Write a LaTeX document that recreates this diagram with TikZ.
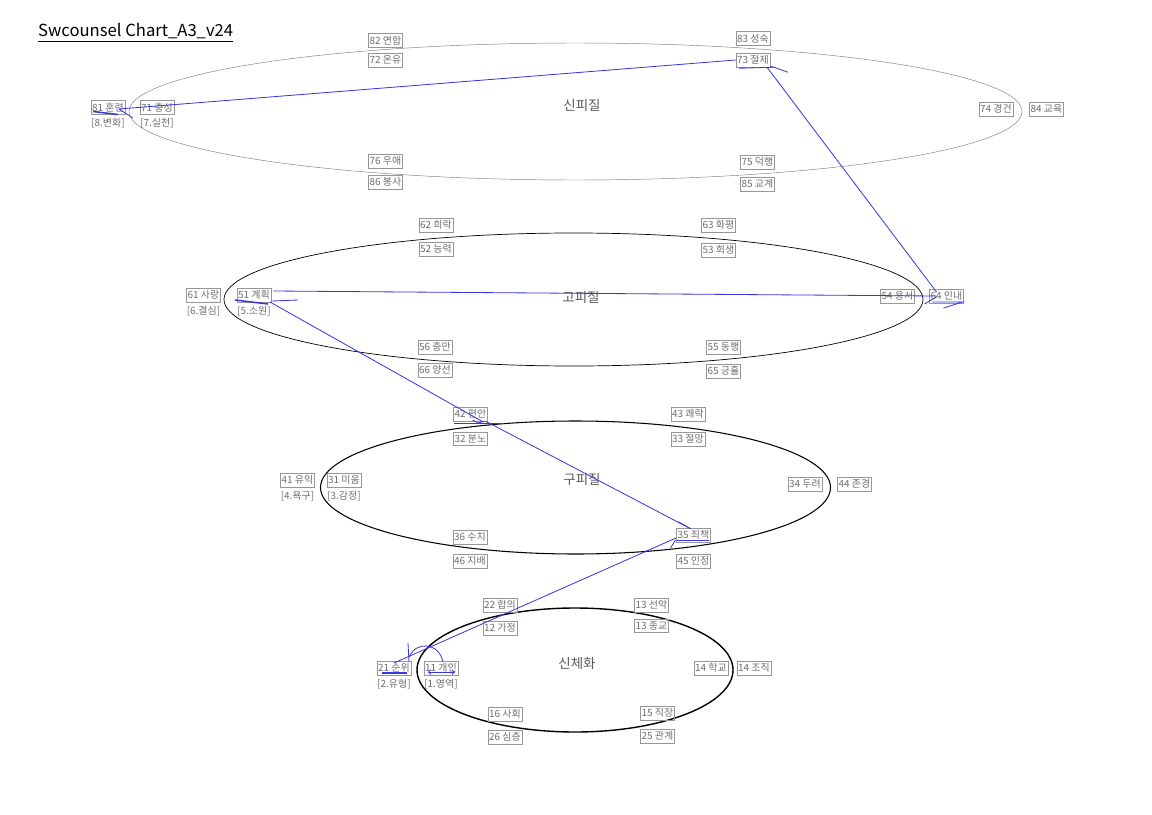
\documentclass[tikz,border=0pt]{standalone}
\usepackage{fontspec}
\setmainfont{Noto Sans CJK KR}
\usepackage{xcolor}
\usepackage{tikz}
\usetikzlibrary{arrows.meta, positioning}

\definecolor{boxgray}{RGB}{150,150,150}
\definecolor{textgray}{RGB}{110,110,110}
\definecolor{linkblue}{RGB}{55,55,225}

\begin{document}
\begin{tikzpicture}[
    x=0.03cm, y=-0.03cm,
    node distance=2pt,
    box/.style={rectangle, draw=boxgray, line width=0.5pt, text=textgray, inner xsep=1pt, inner ysep=2.1pt, font=\fontsize{8.5}{9}\selectfont},
    tag/.style={text=textgray, inner sep=1pt, font=\fontsize{8.5}{9}\selectfont},
    layer/.style={text=black!65, font=\fontsize{11.5}{12}\selectfont},
    link/.style={draw=linkblue, line width=0.7pt},
    stroke/.style={link, line width=1.3pt},
]
\useasboundingbox (0,0) rectangle (1152,814);

% Title
\node[anchor=base west, inner sep=0pt, font=\fontsize{14.2}{16}\selectfont] (title) at (38,37) {\underline{Swcounsel Chart\_A3\_v24}};

% Layers
\draw[gray, line width=0.4pt] (575.5,111.5) ellipse [x radius=446.5, y radius=68.5];
\draw[black, line width=0.6pt] (573.5,299.5) ellipse [x radius=349.5, y radius=66.5];
\draw[black, line width=0.9pt] (575.5,487.5) ellipse [x radius=255, y radius=66.5];
\draw[black, line width=1.2pt] (575,670) ellipse [x radius=158, y radius=62];

\node[layer] (L8) at (582,105) {신피질};
\node[layer] (L6) at (581,297) {고피질};
\node[layer] (L4) at (582,479) {구피질};
\node[layer] (L2) at (577,663) {신체화};

% 신피질 nodes
\node[box] (n82) at (385.5,40.5) {82 연합};
\node[box] (n72) at (385.5,60) {72 온유};
\node[box] (n83) at (753,38.5) {83 성숙};
\node[box] (n73) at (753,60) {73 절제};
\node[box] (n81) at (108,107.5) {81 훈련};
\node[box] (n71) at (157,107.5) {71 충성};
\node[tag, below=of n81] (t8) {[8.변화]};
\node[tag, below=of n71] (t7) {[7.실천]};
\node[box] (n76) at (385.5,161) {76 우애};
\node[box] (n86) at (385.5,182) {86 봉사};
\node[box] (n75) at (757.5,162) {75 덕행};
\node[box] (n85) at (757.5,184) {85 교계};
\node[box] (n74) at (996,109) {74 경건};
\node[box] (n84) at (1046.5,109) {84 교육};

% 고피질 nodes
\node[box] (n62) at (436,225) {62 희락};
\node[box] (n52) at (436,249) {52 능력};
\node[box] (n63) at (718.5,225) {63 화평};
\node[box] (n53) at (718.5,250) {53 희생};
\node[box] (n61) at (203.5,295) {61 사랑};
\node[box] (n51) at (254,295) {51 계획};
\node[tag, below=of n61] (t6) {[6.결심]};
\node[tag, below=of n51] (t5) {[5.소원]};
\node[box] (n54) at (897.5,296) {54 용서};
\node[box] (n64) at (946.5,296) {64 인내};
\node[box] (n56) at (435,347) {56 충만};
\node[box] (n66) at (435,370) {66 양선};
\node[box] (n55) at (723.5,347) {55 동행};
\node[box] (n65) at (723.5,371) {65 긍휼};

% 구피질 nodes
\node[box] (n42) at (470.5,414) {42 편안};
\node[box] (n32) at (470.5,439) {32 분노};
\node[box] (n43) at (688,414) {43 쾌락};
\node[box] (n33) at (688,439) {33 절망};
\node[box] (n41) at (297.5,480) {41 유익};
\node[box] (n31) at (344,480) {31 미움};
\node[tag, below=of n41] (t4) {[4.욕구]};
\node[tag, below=of n31] (t3) {[3.감정]};
\node[box] (n34) at (805,484) {34 두려};
\node[box] (n44) at (854.5,484) {44 존경};
\node[box] (n36) at (470,537) {36 수치};
\node[box] (n46) at (470,561) {46 지배};
\node[box] (n35) at (693.5,535) {35 죄책};
\node[box] (n45) at (693.5,561) {45 인정};

% 신체화 nodes
\node[box] (n22) at (500,605) {22 합의};
\node[box] (n12) at (500,628) {12 가정};
\node[box] (n13a) at (651.5,605) {13 선악};
\node[box] (n13b) at (651.5,626) {13 종교};
\node[box] (n21) at (394,668) {21 순위};
\node[box] (n11) at (441,668) {11 개인};
\node[tag, below=of n21] (t2) {[2.유형]};
\node[tag, below=of n11] (t1) {[1.영역]};
\node[box] (n14a) at (711,668) {14 학교};
\node[box] (n14b) at (754,668) {14 조직};
\node[box] (n16) at (505,714) {16 사회};
\node[box] (n26) at (505,737) {26 심층};
\node[box] (n15) at (657.5,713) {15 직장};
\node[box] (n25) at (657.5,736) {25 관계};

% Links
\draw[link] ([shift={(-10,-4)}]n64.center) -- ([shift={(14,0)}]n73.south);
\draw[link] (n73.west) -- ([shift={(11,1.5)}]n81.center) -- ++(14,9);
\draw[link] ([shift={(2,-4)}]n51.east) -- ([shift={(-11,0)}]n64.center);
\draw[link] ([shift={(13,1)}]n42.south) -- ([shift={(16,7)}]n51.center);
\draw[link] ([shift={(15,0)}]n42.south) -- ([shift={(-3,1)}]n35.north);
\draw[link] ([shift={(0,-5)}]n21.center) -- ([shift={(-17.5,3)}]n35.center);

% heads and strokes
\draw[link] ([shift={(-14,1)}]n73.south) -- ++(35,-1);
\draw[link] ([shift={(18,-1)}]n73.south) -- ++(17,6);
\draw[stroke] ([shift={(-15,4)}]n81.center) -- ++(25,3);
\draw[link] ([shift={(-22,8)}]n64.center) -- ++(12,-7);
\draw[link] ([shift={(-14,6)}]n64.center) -- ++(30,0) -- ++(-19,6);
\draw[stroke] ([shift={(-19,5)}]n51.center) -- ++(33,4);
\draw[link] ([shift={(18,6)}]n51.center) -- ++(26,-1);
\draw[link] ([shift={(-17,9)}]n42.center) -- ++(50,0);
\draw[link] ([shift={(2,6)}]n42.center) -- ++(6,3) -- ++(6,-2);
\draw[link] ([shift={(-15,-6)}]n35.north) -- ++(12,7);
\draw[link] ([shift={(-17,5)}]n35.center) -- ++(32,0);
\draw[link] ([shift={(-23,13)}]n35.center) -- ++(5,-8);
\draw[link] ([shift={(-2,-11)}]n21.east) .. controls +(6,-16) and +(-4,-20) .. ([shift={(2,-6)}]n11.center);
\draw[link] ([shift={(14,-25)}]n21.center) -- ++(1,19);
\draw[stroke] ([shift={(-12,5)}]n21.center) -- ++(25,0);
\draw[link, {Straight Barb[length=2pt]}-{Straight Barb[length=2pt]}] ([shift={(-13,4)}]n11.center) -- ++(27,0);

\end{tikzpicture}
\end{document}
